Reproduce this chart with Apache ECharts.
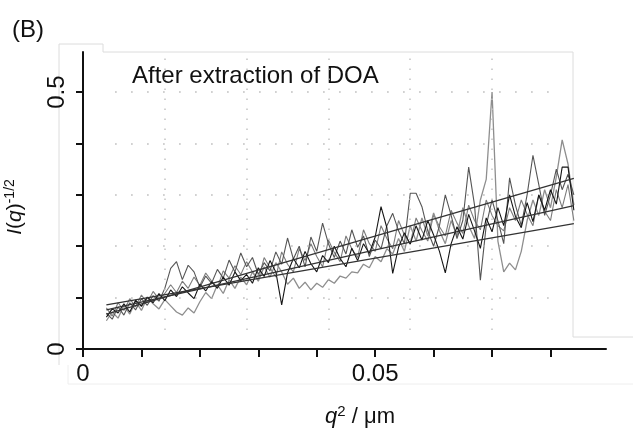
<!DOCTYPE html>
<html>
<head>
<meta charset="utf-8">
<script src="https://cdn.jsdelivr.net/npm/echarts@6/dist/echarts.min.js"></script>
<style>html,body{margin:0;padding:0;background:#fff;}#chart{width:633px;height:432px;}</style>
</head>
<body>
<div id="chart"></div>
<script>
const qSquared = [0.004,0.005,0.006,0.007,0.008,0.009,0.010,0.011,0.012,0.013,
0.014,0.015,0.016,0.017,0.018,0.019,0.020,0.021,0.022,0.023,
0.024,0.025,0.026,0.027,0.028,0.029,0.030,0.031,0.032,0.033,
0.034,0.035,0.036,0.037,0.038,0.039,0.040,0.041,0.042,0.043,
0.044,0.045,0.046,0.047,0.048,0.049,0.050,0.051,0.052,0.053,
0.054,0.055,0.056,0.057,0.058,0.059,0.060,0.061,0.062,0.063,
0.064,0.065,0.066,0.067,0.068,0.069,0.070,0.071,0.072,0.073,
0.074,0.075,0.076,0.077,0.078,0.079,0.080,0.081,0.082,0.083,0.084];

const runDark = [0.062,0.078,0.070,0.088,0.072,0.095,0.083,0.101,0.090,0.108,
0.094,0.115,0.102,0.121,0.109,0.098,0.126,0.113,0.131,0.118,
0.140,0.124,0.150,0.133,0.145,0.128,0.158,0.141,0.172,0.150,
0.086,0.148,0.176,0.158,0.190,0.166,0.150,0.182,0.168,0.200,
0.176,0.160,0.196,0.172,0.205,0.186,0.218,0.277,0.236,0.147,
0.198,0.226,0.204,0.240,0.212,0.250,0.222,0.190,0.148,0.205,
0.238,0.214,0.262,0.230,0.196,0.255,0.228,0.275,0.240,0.300,
0.258,0.236,0.285,0.248,0.300,0.270,0.310,0.282,0.354,0.354,0.270];

const runMid = [0.070,0.058,0.082,0.066,0.090,0.076,0.098,0.085,0.104,0.093,
0.118,0.157,0.170,0.135,0.163,0.150,0.120,0.142,0.128,0.155,
0.138,0.173,0.150,0.187,0.160,0.178,0.145,0.168,0.152,0.189,
0.165,0.216,0.175,0.200,0.160,0.218,0.190,0.245,0.205,0.178,
0.210,0.185,0.232,0.198,0.220,0.180,0.212,0.195,0.240,0.264,
0.230,0.205,0.303,0.303,0.277,0.230,0.200,0.240,0.300,0.260,
0.215,0.250,0.354,0.280,0.134,0.240,0.290,0.250,0.205,0.333,
0.280,0.240,0.300,0.377,0.320,0.260,0.300,0.350,0.310,0.340,0.300];

const runLight = [0.055,0.072,0.060,0.085,0.068,0.092,0.075,0.100,0.088,0.078,
0.096,0.084,0.072,0.066,0.080,0.070,0.092,0.110,0.098,0.125,
0.108,0.135,0.118,0.140,0.125,0.150,0.132,0.160,0.140,0.168,
0.150,0.126,0.138,0.118,0.130,0.115,0.128,0.120,0.135,0.128,
0.142,0.138,0.150,0.148,0.165,0.158,0.180,0.170,0.195,0.185,
0.215,0.190,0.240,0.210,0.255,0.220,0.265,0.230,0.205,0.250,
0.220,0.275,0.240,0.215,0.290,0.330,0.500,0.210,0.150,0.167,
0.154,0.190,0.250,0.290,0.260,0.310,0.275,0.335,0.407,0.360,0.280];

const runPale = [0.080,0.064,0.090,0.075,0.098,0.082,0.105,0.090,0.112,0.097,
0.108,0.125,0.110,0.132,0.118,0.140,0.124,0.148,0.132,0.120,
0.152,0.138,0.162,0.145,0.170,0.150,0.135,0.178,0.158,0.140,
0.189,0.165,0.150,0.195,0.172,0.205,0.180,0.160,0.212,0.188,
0.170,0.220,0.195,0.178,0.232,0.205,0.190,0.240,0.215,0.195,
0.250,0.222,0.205,0.255,0.230,0.210,0.262,0.238,0.220,0.270,
0.245,0.225,0.280,0.250,0.232,0.290,0.260,0.240,0.230,0.275,
0.250,0.290,0.262,0.240,0.300,0.268,0.250,0.310,0.275,0.320,0.250];

const fitLow = [[0.004,0.086],[0.084,0.244]];
const fitMid = [[0.004,0.076],[0.084,0.279]];
const fitHigh = [[0.004,0.068],[0.084,0.332]];

const xTickValues = [0,0.01,0.02,0.03,0.04,0.05,0.06,0.07,0.08];
const xLabelValues = [0,0.05];
const yTickValues = [0,0.1,0.2,0.3,0.4,0.5];
const yLabelValues = [0,0.5];
const dotGridX = [0.014,0.028,0.042,0.056,0.070];
const dotGridY = [0.1,0.2,0.3,0.4,0.5];

const X_MAX = 0.0895, Y_MAX = 0.578;
const FONT = 'Liberation Sans, Arial, sans-serif';

function pair(arr){ return qSquared.map((q,i)=>[q,arr[i]]); }

const gridLines = [];
dotGridX.forEach(v=>gridLines.push([{coord:[v,0.037],lineStyle:{type:[1.5,8.5],color:'#c4c4c4'}},{coord:[v,Y_MAX]}]));
dotGridY.forEach(v=>gridLines.push([{coord:[0.0055,v],lineStyle:{type:[1.5,14.5],color:'#b8b8b8'}},{coord:[0.0815,v]}]));

const chart = echarts.init(document.getElementById('chart'), null, {renderer:'canvas'});
chart.setOption({
  animation:false,
  backgroundColor:'#ffffff',
  grid:{left:83,right:27,top:52,bottom:83,containLabel:false},
  xAxis:{type:'value',min:0,max:X_MAX,
    axisLine:{lineStyle:{color:'#111',width:2}},
    axisTick:{show:true,length:8,lineStyle:{color:'#111',width:2},customValues:xTickValues},
    axisLabel:{customValues:xLabelValues,fontSize:24,color:'#111',fontFamily:FONT,margin:13,
      formatter:v=>String(+v.toFixed(3))},
    splitLine:{show:false}},
  yAxis:{type:'value',min:0,max:Y_MAX,
    axisLine:{show:true,lineStyle:{color:'#111',width:2}},
    axisTick:{show:true,length:7,lineStyle:{color:'#111',width:2},customValues:yTickValues},
    axisLabel:{customValues:yLabelValues,fontSize:24,color:'#111',fontFamily:FONT,rotate:90,margin:14,
      formatter:v=>String(+v.toFixed(2))},
    splitLine:{show:false}},
  series:[
    {type:'line',data:pair(runPale),symbol:'none',lineStyle:{color:'#7c7c7c',width:1.1},z:2,
      markLine:{silent:true,symbol:'none',label:{show:false},lineStyle:{width:1.5},data:gridLines}},
    {type:'line',data:pair(runLight),symbol:'none',lineStyle:{color:'#8e8e8e',width:1.3},z:3},
    {type:'line',data:pair(runMid),symbol:'none',lineStyle:{color:'#555',width:1.1},z:4},
    {type:'line',data:pair(runDark),symbol:'none',lineStyle:{color:'#151515',width:1.1},z:5},
    {type:'line',data:fitLow,symbol:'none',lineStyle:{color:'#333',width:1.2},z:6},
    {type:'line',data:fitMid,symbol:'none',lineStyle:{color:'#333',width:1.2},z:6},
    {type:'line',data:fitHigh,symbol:'none',lineStyle:{color:'#333',width:1.2},z:6}
  ],
  graphic:[
    {type:'polyline',silent:true,z:-1,shape:{points:[[59,365],[59,44],[103,44],[103,52],[573,52],[573,337],[633,337]]},style:{stroke:'#dcdcdc',lineWidth:1,fill:null}},
    {type:'polyline',silent:true,z:-1,shape:{points:[[68,365],[68,384],[633,384]]},style:{stroke:'#eeeeee',lineWidth:1,fill:null}},
    {type:'text',x:12,y:30,style:{text:'(B)',font:'24px '+FONT,fill:'#111',verticalAlign:'middle'}},
    {type:'text',x:132,y:76,style:{text:'After extraction of DOA',font:'24px '+FONT,fill:'#111',verticalAlign:'middle'}},
    {type:'text',x:360,y:417,style:{text:'{i|q}{s|2}{n| / μm}',align:'center',verticalAlign:'middle',fill:'#111',
      rich:{i:{fontSize:22,fontStyle:'italic',fontFamily:FONT,fill:'#111',lineHeight:26},
            s:{fontSize:15,fontFamily:FONT,fill:'#111',verticalAlign:'top',lineHeight:26,padding:[0,0,8,0]},
            n:{fontSize:22,fontFamily:FONT,fill:'#111',lineHeight:26}}}},
    {type:'text',x:15,y:207,rotation:Math.PI/2,style:{text:'{i|I}{n|(}{i|q}{n|)}{s|-1/2}',align:'center',verticalAlign:'middle',fill:'#111',
      rich:{i:{fontSize:21,fontStyle:'italic',fontFamily:FONT,fill:'#111',lineHeight:24},
            n:{fontSize:21,fontFamily:FONT,fill:'#111',lineHeight:24},
            s:{fontSize:14,fontFamily:FONT,fill:'#111',verticalAlign:'top',lineHeight:24,padding:[0,0,8,0]}}}}
  ]
});
</script>
</body>
</html>
